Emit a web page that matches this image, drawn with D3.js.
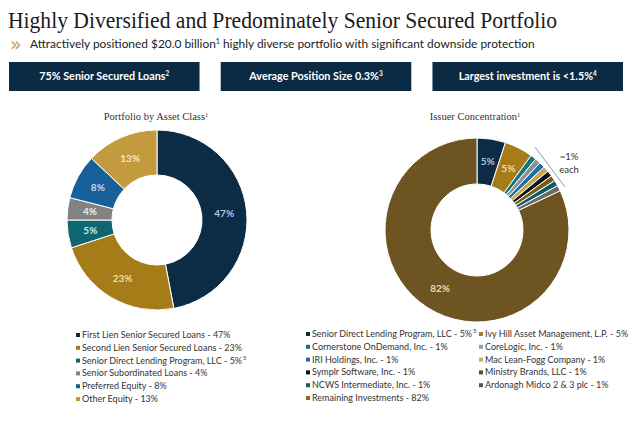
<!DOCTYPE html>
<html><head><meta charset="utf-8">
<script src="https://cdn.jsdelivr.net/npm/d3@7"></script>
<style>body{margin:0;background:#fff;} svg{display:block}</style>
</head><body><svg id="c" width="640" height="430"></svg>
<script>
// ---- data ----
const titleText = "Highly Diversified and Predominately Senior Secured Portfolio";
const boxTexts = ["75% Senior Secured Loans", "Average Position Size 0.3%", "Largest investment is <1.5%"];
const boxNotes = ["2", "3", "4"];

const assetCategories = ["First Lien Senior Secured Loans", "Second Lien Senior Secured Loans",
  "Senior Direct Lending Program, LLC", "Senior Subordinated Loans", "Preferred Equity", "Other Equity"];
const assetValues = [47, 23, 5, 4, 8, 13];
const assetNotes = ["", "", "5", "", "", ""];

const issuerCategories = ["Senior Direct Lending Program, LLC", "Ivy Hill Asset Management, L.P.",
  "Cornerstone OnDemand, Inc.", "CoreLogic, Inc.", "IRI Holdings, Inc.", "Mac Lean-Fogg Company",
  "Symplr Software, Inc.", "Ministry Brands, LLC", "NCWS Intermediate, Inc.", "Ardonagh Midco 2 & 3 plc ",
  "Remaining Investments"];
const issuerValues = [5, 5, 1, 1, 1, 1, 1, 1, 1, 1, 82];
const issuerNotes = ["5", "", "", "", "", "", "", "", "", "", ""];

// ---- styles ----
const assetColors = ["#0c2b45", "#a67c18", "#0f6670", "#828282", "#17609a", "#c39a3e"];
const assetLabelColors = ["#a9c8e6", "#f3dca4", "#cfe6ea", "#ececec", "#c2dbf0", "#f8e6bb"];
const issuerColors = ["#0c2b45", "#a67c18", "#14737e", "#8d9298", "#1d6ea6", "#c9a54c",
  "#101418", "#7a5d14", "#0f5c66", "#6a6a6a", "#6e5421"];
const issuerLabelColors = ["#a9c8e6", "#f3dca4", null, null, null, null, null, null, null, null, "#eadbb5"];
const issuerBullet = ["#0c2b45", "#a67c18", "#14737e", "#9a9a9a", "#1d6ea6", "#b9b36a",
  "#101418", "#5b5220", "#0f5c66", "#555555", "#8a6a22"];

const svg = d3.select("#c");
const sans = "Lato, 'Open Sans', sans-serif";
const serif = "'Liberation Serif', 'DejaVu Serif', serif";

// title
svg.append("text").attr("x", 8).attr("y", 28)
  .attr("font-family", serif).attr("font-size", 24).attr("fill", "#1a1a1a")
  .attr("textLength", 549).attr("lengthAdjust", "spacingAndGlyphs")
  .text(titleText);

// chevron + subtitle
svg.append("text").attr("x", 10).attr("y", 51)
  .attr("font-family", "'DejaVu Sans', sans-serif").attr("font-size", 19).attr("fill", "#c2a06a")
  .text("\u00BB");
const sub = svg.append("text").attr("x", 30).attr("y", 48)
  .attr("font-family", sans).attr("font-size", 11.9).attr("fill", "#222");
sub.append("tspan").text("Attractively positioned $20.0 billion");
sub.append("tspan").attr("font-size", 7).attr("dy", -4).text("1");
sub.append("tspan").attr("dy", 4).text(" highly diverse portfolio with significant downside protection");

// boxes
const boxX = d3.scaleBand().domain(d3.range(3)).range([9, 623]).paddingInner(0.1);
boxTexts.forEach((t, i) => {
  svg.append("rect").attr("x", boxX(i)).attr("y", 62).attr("width", boxX.bandwidth()).attr("height", 29)
    .attr("fill", "#0b2a44");
  const tx = svg.append("text").attr("x", boxX(i) + boxX.bandwidth() / 2).attr("y", 80)
    .attr("text-anchor", "middle").attr("font-family", sans).attr("font-weight", "bold")
    .attr("font-size", 10.8).attr("fill", "#fff");
  tx.append("tspan").text(t);
  tx.append("tspan").attr("font-size", 6.5).attr("dy", -4).text(boxNotes[i]);
});

// chart subtitles
function subTitle(x, y, t) {
  const s = svg.append("text").attr("x", x).attr("y", y).attr("text-anchor", "middle")
    .attr("font-family", serif).attr("font-size", 10.5).attr("fill", "#333");
  s.append("tspan").text(t);
  s.append("tspan").attr("font-size", 6.5).attr("dy", -3).text("1");
}
subTitle(156, 120, "Portfolio by Asset Class");
subTitle(475, 120, "Issuer Concentration");

// donuts
function donut(cx, cy, rOut, rIn, values, colors, labelColors) {
  const pie = d3.pie().sort(null).value(d => d);
  const arcs = pie(values);
  const arc = d3.arc().innerRadius(rIn).outerRadius(rOut);
  const g = svg.append("g").attr("transform", `translate(${cx},${cy})`);
  g.selectAll("path").data(arcs).join("path")
    .attr("d", arc).attr("fill", (d, i) => colors[i])
    .attr("stroke", "#fff").attr("stroke-width", 1);
  g.selectAll("text").data(arcs.filter((d, i) => labelColors[i])).join("text")
    .attr("transform", d => `translate(${arc.centroid(d)})`)
    .attr("text-anchor", "middle").attr("dy", "0.35em")
    .attr("font-family", sans).attr("font-weight", "bold").attr("font-size", 10)
    .attr("fill", d => labelColors[d.index])
    .text(d => d.data + "%");
  return g;
}
donut(157, 220, 90, 45, assetValues, assetColors, assetLabelColors);
donut(477, 230, 92, 46, issuerValues, issuerColors, issuerLabelColors);

// ~1% each annotation
svg.append("line").attr("x1", 535).attr("y1", 147).attr("x2", 565).attr("y2", 187)
  .attr("stroke", "#8a9aa8").attr("stroke-width", 1);
svg.append("text").attr("x", 569).attr("y", 160).attr("text-anchor", "middle")
  .attr("font-family", sans).attr("font-size", 9.5).attr("fill", "#333").text("~1%");
svg.append("text").attr("x", 569).attr("y", 173).attr("text-anchor", "middle")
  .attr("font-family", sans).attr("font-size", 9.5).attr("fill", "#333").text("each");

// legends
function legendItem(x, y, color, label, note) {
  svg.append("rect").attr("x", x).attr("y", y - 5).attr("width", 4).attr("height", 4).attr("fill", color);
  const t = svg.append("text").attr("x", x + 6).attr("y", y)
    .attr("font-family", sans).attr("font-size", 9).attr("fill", "#333");
  t.append("tspan").text(label);
  if (note) t.append("tspan").attr("font-size", 6).attr("dy", -4).attr("dx", 1).text(note);
}
const rowL = d3.scaleLinear().domain([0, 1]).range([338, 350.8]);
assetCategories.forEach((c, i) => {
  legendItem(76, rowL(i), assetColors[i], `${c} - ${assetValues[i]}%`, assetNotes[i]);
});
const rowR = d3.scaleLinear().domain([0, 1]).range([337, 349.8]);
issuerCategories.forEach((c, i) => {
  const col = i % 2, row = Math.floor(i / 2);
  legendItem(col ? 479 : 306, rowR(row), issuerBullet[i], `${c} - ${issuerValues[i]}%`, issuerNotes[i]);
});
</script></body></html>
